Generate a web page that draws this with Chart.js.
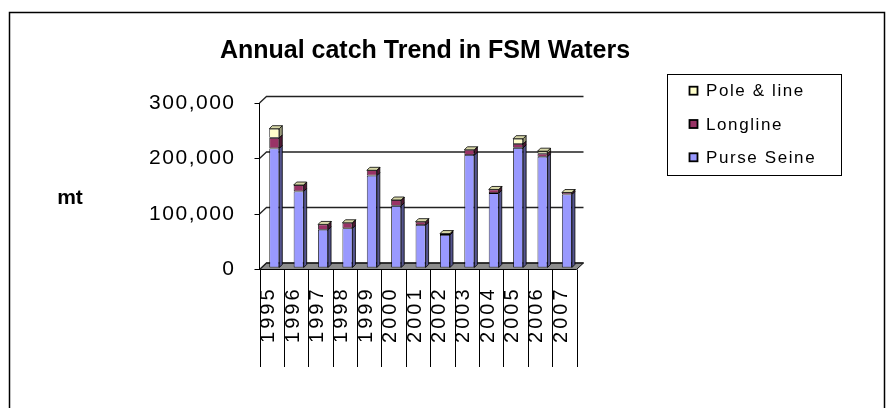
<!DOCTYPE html>
<html>
<head>
<meta charset="utf-8">
<script src="https://cdn.jsdelivr.net/npm/chart.js@4"></script>
<style>
  body { margin: 0; background: #fff; }
  canvas { display: block; }
</style>
</head>
<body>
<canvas id="myChart" width="888" height="408"></canvas>
<script>
const years = ['1995', '1996', '1997', '1998', '1999', '2000', '2001', '2002', '2003', '2004', '2005', '2006', '2007'];
const purseSeine = [215500, 138000, 69000, 71500, 166500, 112000, 77500, 59500, 203500, 135000, 216500, 200500, 132500];
const longline = [19000, 11500, 9500, 10000, 9500, 10500, 6000, 2500, 9500, 6500, 7000, 5500, 3500];
const poleLine = [16500, 0, 0, 0, 0, 0, 0, 0, 0, 0, 9500, 4500, 0];
const seriesNames = ['Purse Seine', 'Longline', 'Pole & line'];
const yTicks = [0, 100000, 200000, 300000];

const frontColors = ['#9999FF', '#993366', '#FFFFCC'];
const sideColors = ['#55558F', '#4F1A35', '#9A9A7A'];
const topColor = '#D8D8A8';

// depth of the walls / floor and of the bars
const wallDx = 7, wallDy = -6.5;
const barShiftX = 2.6, barShiftY = -1.5;
const barDx = 3, barDy = -3;

const depthPlugin = {
    id: 'depth',
    beforeDraw(chart) {
        const ctx = chart.ctx;
        ctx.letterSpacing = '1.5px'; // y tick labels
        const x = chart.scales.x, y = chart.scales.y;
        const left = chart.chartArea.left, right = chart.chartArea.right;
        const base = y.getPixelForValue(0);
        ctx.save();
        // floor
        ctx.beginPath();
        ctx.moveTo(left, base);
        ctx.lineTo(right, base);
        ctx.lineTo(right + wallDx, base + wallDy);
        ctx.lineTo(left + wallDx, base + wallDy);
        ctx.closePath();
        ctx.fillStyle = '#8C8C8C';
        ctx.fill();
        ctx.strokeStyle = '#000';
        ctx.lineWidth = 1;
        ctx.stroke();
        // back wall grid lines
        ctx.strokeStyle = '#222';
        ctx.lineWidth = 1.3;
        yTicks.forEach(v => {
            const py = y.getPixelForValue(v);
            ctx.beginPath();
            ctx.moveTo(left, py);
            ctx.lineTo(left + wallDx, py + wallDy);
            ctx.lineTo(right + wallDx, py + wallDy);
            ctx.stroke();
        });
        // category separators below the axis
        ctx.strokeStyle = '#000';
        ctx.lineWidth = 1;
        for (let i = 0; i <= years.length; i++) {
            const px = Math.round(x.getPixelForValue(i - 0.5)) + 0.5;
            ctx.beginPath();
            ctx.moveTo(px, base);
            ctx.lineTo(px, 367);
            ctx.stroke();
        }
        ctx.restore();
    },
    beforeDatasetsDraw(chart) {
        chart.ctx.save();
        chart.ctx.translate(barShiftX, barShiftY);
    },
    afterDatasetsDraw(chart) {
        const ctx = chart.ctx;
        const n = chart.data.datasets.length;
        ctx.strokeStyle = '#000';
        ctx.lineWidth = 0.8;
        for (let d = 0; d < n; d++) {
            const meta = chart.getDatasetMeta(d);
            meta.data.forEach(bar => {
                const p = bar.getProps(['x', 'y', 'base', 'width'], true);
                const r = p.x + p.width / 2;
                ctx.beginPath();
                ctx.moveTo(r, p.y);
                ctx.lineTo(r + barDx, p.y + barDy);
                ctx.lineTo(r + barDx, p.base + barDy);
                ctx.lineTo(r, p.base);
                ctx.closePath();
                ctx.fillStyle = sideColors[d];
                ctx.fill();
                ctx.stroke();
                if (d === n - 1) {
                    const l = p.x - p.width / 2;
                    ctx.beginPath();
                    ctx.moveTo(l, p.y);
                    ctx.lineTo(l + barDx, p.y + barDy);
                    ctx.lineTo(r + barDx, p.y + barDy);
                    ctx.lineTo(r, p.y);
                    ctx.closePath();
                    ctx.fillStyle = topColor;
                    ctx.fill();
                    ctx.stroke();
                }
            });
        }
        ctx.restore();
        ctx.letterSpacing = '3px'; // x tick labels (drawn in the z:1 layer)
    },
    afterDraw(chart) {
        const ctx = chart.ctx;
        ctx.save();
        ctx.letterSpacing = '0px';
        ctx.fillStyle = '#000';
        // outer frame
        ctx.strokeStyle = '#000';
        ctx.lineWidth = 1.5;
        ctx.strokeRect(9.5, 12.5, 875, 420);
        // title
        ctx.font = 'bold 25px "Liberation Sans", Arial, sans-serif';
        ctx.textAlign = 'center';
        ctx.textBaseline = 'alphabetic';
        ctx.fillText('Annual catch Trend in FSM Waters', 425, 58);
        // axis title
        ctx.font = 'bold 21px "Liberation Sans", Arial, sans-serif';
        ctx.fillText('mt', 70, 204);
        // legend
        ctx.lineWidth = 1;
        ctx.strokeRect(667.5, 74.5, 174, 101);
        ctx.font = '17px "Liberation Sans", Arial, sans-serif';
        ctx.letterSpacing = '1.6px';
        ctx.textAlign = 'left';
        ctx.textBaseline = 'middle';
        const rows = [90.7, 124, 157.3];
        for (let k = 0; k < 3; k++) {
            const d = 2 - k;
            const cy = rows[k];
            ctx.fillStyle = frontColors[d];
            ctx.fillRect(689.5, cy - 4, 8, 8);
            ctx.lineWidth = 1.8;
            ctx.strokeRect(689.5, cy - 4, 8, 8);
            ctx.fillStyle = '#000';
            ctx.fillText(chart.data.datasets[d].label, 706, cy + 1);
        }
        ctx.restore();
    }
};

const ctx = document.getElementById('myChart').getContext('2d');
const seriesValues = [purseSeine, longline, poleLine];

const chart = new Chart(ctx, {
    type: 'bar',
    data: {
        labels: years,
        datasets: seriesValues.map((vals, i) => ({
            label: seriesNames[i],
            data: vals,
            backgroundColor: frontColors[i],
            borderColor: '#000',
            borderWidth: 0.8,
            borderSkipped: false,
            barPercentage: 0.41,
            categoryPercentage: 1
        }))
    },
    options: {
        responsive: false,
        animation: false,
        devicePixelRatio: 1,
        layout: {
            padding: { top: 103, left: 0, right: 311.5, bottom: 38.5 }
        },
        scales: {
            x: {
                stacked: true,
                afterFit(scale) { scale.height = 100; },
                grid: { display: false, drawTicks: false },
                border: { display: false },
                ticks: {
                    z: 1,
                    autoSkip: false,
                    minRotation: 90,
                    maxRotation: 90,
                    padding: 17,
                    labelOffset: -3,
                    color: '#000',
                    font: { family: '"Liberation Sans", Arial, sans-serif', size: 20 }
                }
            },
            y: {
                stacked: true,
                min: 0,
                max: 300000,
                afterFit(scale) { scale.width = 259.5; },
                grid: { drawOnChartArea: false, drawTicks: true, tickLength: 5, color: '#000' },
                border: { display: true, color: '#000', width: 1 },
                ticks: {
                    stepSize: 100000,
                    padding: 19,
                    color: '#000',
                    font: { family: '"Liberation Sans", Arial, sans-serif', size: 21 }
                }
            }
        },
        plugins: {
            legend: { display: false },
            title: { display: false },
            tooltip: { enabled: false }
        }
    },
    plugins: [depthPlugin]
});
</script>
</body>
</html>
